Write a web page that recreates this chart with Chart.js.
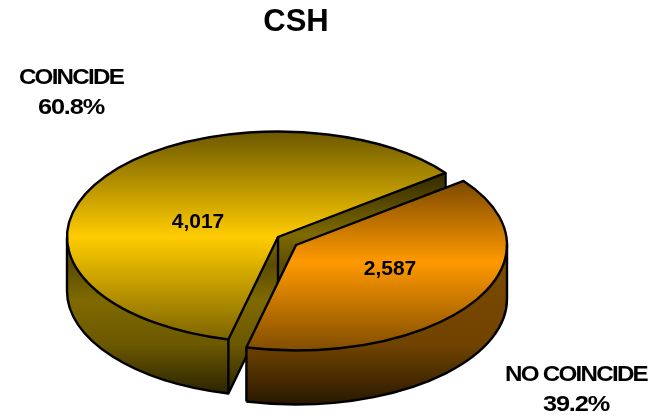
<!DOCTYPE html>
<html>
<head>
<meta charset="utf-8">
<title>CSH</title>
<script src="https://cdn.jsdelivr.net/npm/chart.js@4"></script>
<style>
    html, body { margin: 0; padding: 0; background: #ffffff; }
    #chart-box { width: 663px; height: 418px; }
</style>
</head>
<body>
<div id="chart-box"><canvas id="pie-canvas"></canvas></div>
<script>
const chartTitle = 'CSH';
const categories = ['COINCIDE', 'NO COINCIDE'];
const seriesValues = [4017, 2587];

// where the flat pie is put on the page
const pieX = 278;
const pieY = 237;
const squash = 0.5;
const depth = 54;
const shiftX = [0, 18];
const shiftY = [0, 8];
const valueSpots = [[198, 222], [390, 269]];
const nameSpots = [[71, 78], [576, 375]];

const topStops = [
    [[131, '#6b5700'], [237, '#ffcc00'], [342, '#7a6200']],
    [[180, '#7a4800'], [262, '#ff9900'], [352, '#7f4c00']]
];
const wallStops = [
    [[170, '#2e2600'], [235, '#7f6a00'], [265, '#5c4c00'], [300, '#7f6a00'], [345, '#6b5800'], [394, '#2a2300']],
    [[240, '#7f4c00'], [345, '#704300'], [403, '#2a1900']]
];

function makeGradient(ctx, stops, arc, baseY) {
    // stops are page heights, the fill happens inside the squashed transform
    let toUser = y => arc.y + (y - baseY) / squash;
    let first = stops[0][0];
    let last = stops[stops.length - 1][0];
    let gradient = ctx.createLinearGradient(0, toUser(first), 0, toUser(last));
    stops.forEach(s => gradient.addColorStop((s[0] - first) / (last - first), s[1]));
    return gradient;
}

function drawFlat(ctx, arc, style, baseX, baseY) {
    let kept = arc.options;
    arc.options = Object.assign({}, kept, { backgroundColor: style, borderWidth: 0 });
    ctx.save();
    ctx.translate(baseX, baseY);
    ctx.scale(1, squash);
    ctx.translate(-arc.x, -arc.y);
    arc.draw(ctx);
    ctx.restore();
    arc.options = kept;
}

function outline(ctx, arc, baseX, baseY, from, to) {
    ctx.beginPath();
    ctx.ellipse(baseX, baseY, arc.outerRadius, arc.outerRadius * squash, 0, from, to);
    ctx.stroke();
}

function pointOn(arc, angle, baseX, baseY) {
    return [baseX + Math.cos(angle) * arc.outerRadius, baseY + Math.sin(angle) * arc.outerRadius * squash];
}

function drawSlice(ctx, arc, index) {
    let baseX = pieX + shiftX[index];
    let baseY = pieY + shiftY[index];
    let start = arc.startAngle;
    let end = arc.endAngle;

    for (let d = depth; d > 0; d--) {
        drawFlat(ctx, arc, makeGradient(ctx, wallStops[index], arc, baseY + d), baseX, baseY + d);
    }
    drawFlat(ctx, arc, makeGradient(ctx, topStops[index], arc, baseY), baseX, baseY);

    ctx.save();
    ctx.strokeStyle = '#000000';
    ctx.lineWidth = 2.4;
    ctx.lineJoin = 'round';

    let startTop = pointOn(arc, start, baseX, baseY);
    let endTop = pointOn(arc, end, baseX, baseY);

    // front part of the wall
    let lowY = baseY + depth;
    if (index === 0) {
        outline(ctx, arc, baseX, lowY, start, Math.PI);
        let side = pointOn(arc, Math.PI, baseX, baseY);
        ctx.beginPath();
        ctx.moveTo(side[0], side[1]);
        ctx.lineTo(side[0], lowY);
        ctx.moveTo(baseX, baseY);
        ctx.lineTo(baseX, lowY);
        ctx.lineTo(startTop[0], startTop[1] + depth);
        ctx.lineTo(startTop[0], startTop[1]);
        ctx.moveTo(endTop[0], endTop[1]);
        ctx.lineTo(endTop[0], endTop[1] + depth);
        ctx.stroke();
    } else {
        outline(ctx, arc, baseX, lowY, 0, end - 2 * Math.PI);
        let side = pointOn(arc, 0, baseX, baseY);
        ctx.beginPath();
        ctx.moveTo(side[0], side[1]);
        ctx.lineTo(side[0], lowY);
        ctx.moveTo(endTop[0], endTop[1]);
        ctx.lineTo(endTop[0], endTop[1] + depth);
        ctx.stroke();
    }

    // top face edge
    ctx.beginPath();
    ctx.moveTo(baseX, baseY);
    ctx.ellipse(baseX, baseY, arc.outerRadius, arc.outerRadius * squash, 0, start, end);
    ctx.closePath();
    ctx.stroke();
    ctx.restore();
}

// the outer labels are wide letters set tight, so stretch them sideways
function writeText(ctx, text, x, y, size, spacing, stretch) {
    ctx.save();
    ctx.font = 'bold ' + size + 'px "Liberation Sans", Arial, sans-serif';
    ctx.letterSpacing = spacing + 'px';
    ctx.translate(x, y);
    ctx.scale(stretch, 1);
    ctx.fillText(text, 0, 0);
    ctx.restore();
}

const tiltedPie = {
    id: 'tiltedPie',
    beforeDatasetsDraw(chart) {
        let ctx = chart.ctx;
        let arcs = chart.getDatasetMeta(0).data;
        arcs.forEach((arc, i) => drawSlice(ctx, arc, i));

        let total = seriesValues.reduce((a, b) => a + b, 0);
        ctx.save();
        ctx.fillStyle = '#000000';
        ctx.textAlign = 'center';
        ctx.textBaseline = 'middle';
        categories.forEach((name, i) => {
            let spot = nameSpots[i];
            writeText(ctx, name, spot[0], spot[1], 22, -1.6, 1.1);
            writeText(ctx, (seriesValues[i] / total * 100).toFixed(1) + '%', spot[0], spot[1] + 30, 22, -1, 1.15);
            writeText(ctx, seriesValues[i].toLocaleString('en-US'), valueSpots[i][0], valueSpots[i][1], 21, 0, 1);
        });
        ctx.restore();
        return false;
    }
};

new Chart(document.getElementById('pie-canvas'), {
    type: 'pie',
    data: {
        labels: categories,
        datasets: [{
            data: seriesValues,
            backgroundColor: ['#ffcc00', '#ff9900'],
            borderColor: '#000000',
            borderWidth: 0
        }]
    },
    options: {
        responsive: true,
        maintainAspectRatio: false,
        animation: false,
        radius: 211,
        rotation: 193.6,
        layout: { padding: { right: 71 } },
        plugins: {
            legend: { display: false },
            tooltip: { enabled: false },
            title: {
                display: true,
                text: chartTitle,
                color: '#000000',
                font: { family: '"Liberation Sans", Arial, sans-serif', size: 31, weight: 'bold' },
                padding: { top: 4, bottom: 0 }
            }
        }
    },
    plugins: [tiltedPie]
});
</script>
</body>
</html>
